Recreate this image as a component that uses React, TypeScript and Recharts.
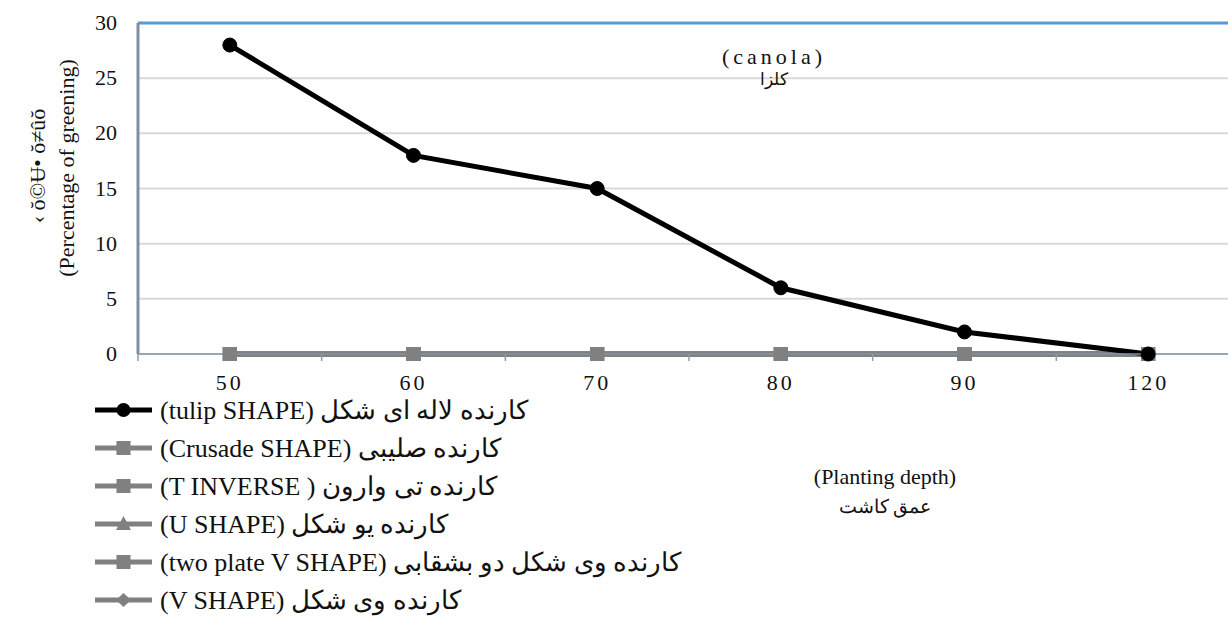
import { LineChart, Line, XAxis, YAxis, CartesianGrid, ReferenceLine } from 'recharts';

const depths = ['50', '60', '70', '80', '90', '120'];
const tulip = [28, 18, 15, 6, 2, 0];
const crusade = [0, 0, 0, 0, 0, 0];
const tInverse = [0, 0, 0, 0, 0, 0];
const uShape = [0, 0, 0, 0, 0, 0];
const twoPlateV = [0, 0, 0, 0, 0, 0];
const vShape = [0, 0, 0, 0, 0, 0];
const yTicks = [0, 5, 10, 15, 20, 25, 30];
const gridTicks = [0, 1, 2, 3, 4, 5, 6];

const legendItems = [
  { label: '(tulip SHAPE) کارنده لاله ای شکل', color: '#000', marker: 'circle' },
  { label: '(Crusade SHAPE) کارنده صلیبی', color: '#808080', marker: 'square' },
  { label: '(T INVERSE ) کارنده تی وارون', color: '#808080', marker: 'square' },
  { label: '(U SHAPE) کارنده یو شکل', color: '#808080', marker: 'triangle' },
  { label: '(two plate V SHAPE) کارنده وی شکل دو بشقابی', color: '#808080', marker: 'square' },
  { label: '(V SHAPE) کارنده وی شکل', color: '#808080', marker: 'diamond' },
];

const data = depths.map((d, i) => ({
  depth: d,
  tulip: tulip[i],
  crusade: crusade[i],
  tInverse: tInverse[i],
  uShape: uShape[i],
  twoPlateV: twoPlateV[i],
  vShape: vShape[i],
}));

const W = 1228;
const H = 628;
// the plot runs a little past the right edge of the picture, as in the source
const CHART_W = 1240;
const LEFT = 138;
const BAND = (CHART_W - LEFT) / depths.length;
const SERIF = '"Liberation Serif", "Times New Roman", serif';

const Square = (p: any) => (
  <rect key={p.key} x={p.cx - 7} y={p.cy - 7} width={14} height={14} fill="#808080" />
);

function XTick(props: any) {
  const { x, y, payload } = props;
  return (
    <g>
      <line x1={x - BAND / 2} x2={x - BAND / 2} y1={y - 8} y2={y - 1} stroke="#999" strokeWidth={1.5} />
      <text x={x} y={y + 28} textAnchor="middle" style={{ fontFamily: SERIF, letterSpacing: 3 }} fontSize={22} fill="#111">
        {payload.value}
      </text>
    </g>
  );
}

function YTick(props: any) {
  const { x, y, payload } = props;
  return (
    <text x={x} y={y + 7} textAnchor="end" style={{ fontFamily: SERIF }} fontSize={22} fill="#111">
      {payload.value}
    </text>
  );
}

function Icon({ color, marker }: { color: string; marker: string }) {
  return (
    <svg width={57} height={16} style={{ display: 'block' }}>
      <line x1={0} x2={57} y1={8} y2={8} stroke={color} strokeWidth={5} />
      {marker === 'circle' && <circle cx={28.5} cy={8} r={7} fill={color} />}
      {marker === 'square' && <rect x={21.5} y={1} width={14} height={14} fill={color} />}
      {marker === 'triangle' && <polygon points="28.5,0 36,14 21,14" fill={color} />}
      {marker === 'diamond' && <polygon points="28.5,1 36,8 28.5,15 21,8" fill={color} />}
    </svg>
  );
}

export default function App() {
  return (
    <div style={{ position: 'absolute', left: 0, top: 0, width: W, height: H, overflow: 'hidden', background: '#fff', fontFamily: SERIF, color: '#111' }}>
      <LineChart width={CHART_W} height={H} data={data} margin={{ top: 23, right: 0, left: 0, bottom: 234 }}>
        <XAxis xAxisId="grid" type="number" orientation="top" domain={[0, 6]} ticks={gridTicks}
          height={0} tick={false} tickLine={false} axisLine={false} />
        <CartesianGrid xAxisId="grid" stroke="#d9d9d9" strokeWidth={2} />
        <XAxis xAxisId="cat" dataKey="depth" scale="band" height={40} tickLine={false}
          axisLine={{ stroke: '#7f93ab', strokeWidth: 1.5 }} tick={<XTick />} interval={0} />
        <YAxis domain={[0, 30]} ticks={yTicks} width={LEFT} tickLine={false} axisLine={{ stroke: '#7f8ea0', strokeWidth: 3 }}
          tickMargin={15} tick={<YTick />} interval={0} />
        <ReferenceLine xAxisId="cat" y={30} stroke="#5b9bd5" strokeWidth={3} />
        <Line xAxisId="cat" dataKey="uShape" stroke="#808080" strokeWidth={5} dot={Square} isAnimationActive={false} />
        <Line xAxisId="cat" dataKey="vShape" stroke="#808080" strokeWidth={5} dot={Square} isAnimationActive={false} />
        <Line xAxisId="cat" dataKey="crusade" stroke="#808080" strokeWidth={5} dot={Square} isAnimationActive={false} />
        <Line xAxisId="cat" dataKey="tInverse" stroke="#808080" strokeWidth={5} dot={Square} isAnimationActive={false} />
        <Line xAxisId="cat" dataKey="twoPlateV" stroke="#808080" strokeWidth={5} dot={Square} isAnimationActive={false} />
        <Line xAxisId="cat" dataKey="tulip" stroke="#000" strokeWidth={5} dot={{ r: 7, fill: '#000', stroke: '#000', strokeWidth: 1 }}
          isAnimationActive={false} />
      </LineChart>

      {/* y axis titles */}
      <div style={{ position: 'absolute', left: 67, top: 168, transform: 'translate(-50%, -50%) rotate(-90deg)', whiteSpace: 'nowrap', fontSize: 22 }}>
        (Percentage of greening)
      </div>
      <div style={{ position: 'absolute', left: 38, top: 166, transform: 'translate(-50%, -50%) rotate(-90deg)', whiteSpace: 'nowrap', fontSize: 22 }}>
        ‹ ŏ©Ʉ• ŏ≠ûŏ
      </div>

      {/* crop title */}
      <div style={{ position: 'absolute', left: 774, top: 44, transform: 'translateX(-50%)', fontSize: 22, letterSpacing: 4, textAlign: 'center', lineHeight: '26px', whiteSpace: 'nowrap' }}>
        (canola)
        <div style={{ fontSize: 17, letterSpacing: 0, lineHeight: '20px' }}>کلزا</div>
      </div>

      {/* x axis title */}
      <div style={{ position: 'absolute', left: 885, top: 462, transform: 'translateX(-50%)', fontSize: 22, textAlign: 'center', lineHeight: '30px', whiteSpace: 'nowrap' }}>
        (Planting depth)
        <div style={{ fontSize: 19 }}>عمق کاشت</div>
      </div>

      {/* legend */}
      <div style={{ position: 'absolute', left: 95, top: 391 }}>
        {legendItems.map((it) => (
          <div key={it.label} style={{ display: 'flex', alignItems: 'center', height: 38, fontSize: 26, whiteSpace: 'nowrap' }}>
            <Icon color={it.color} marker={it.marker} />
            <span style={{ marginLeft: 8 }}>{it.label}</span>
          </div>
        ))}
      </div>
    </div>
  );
}
